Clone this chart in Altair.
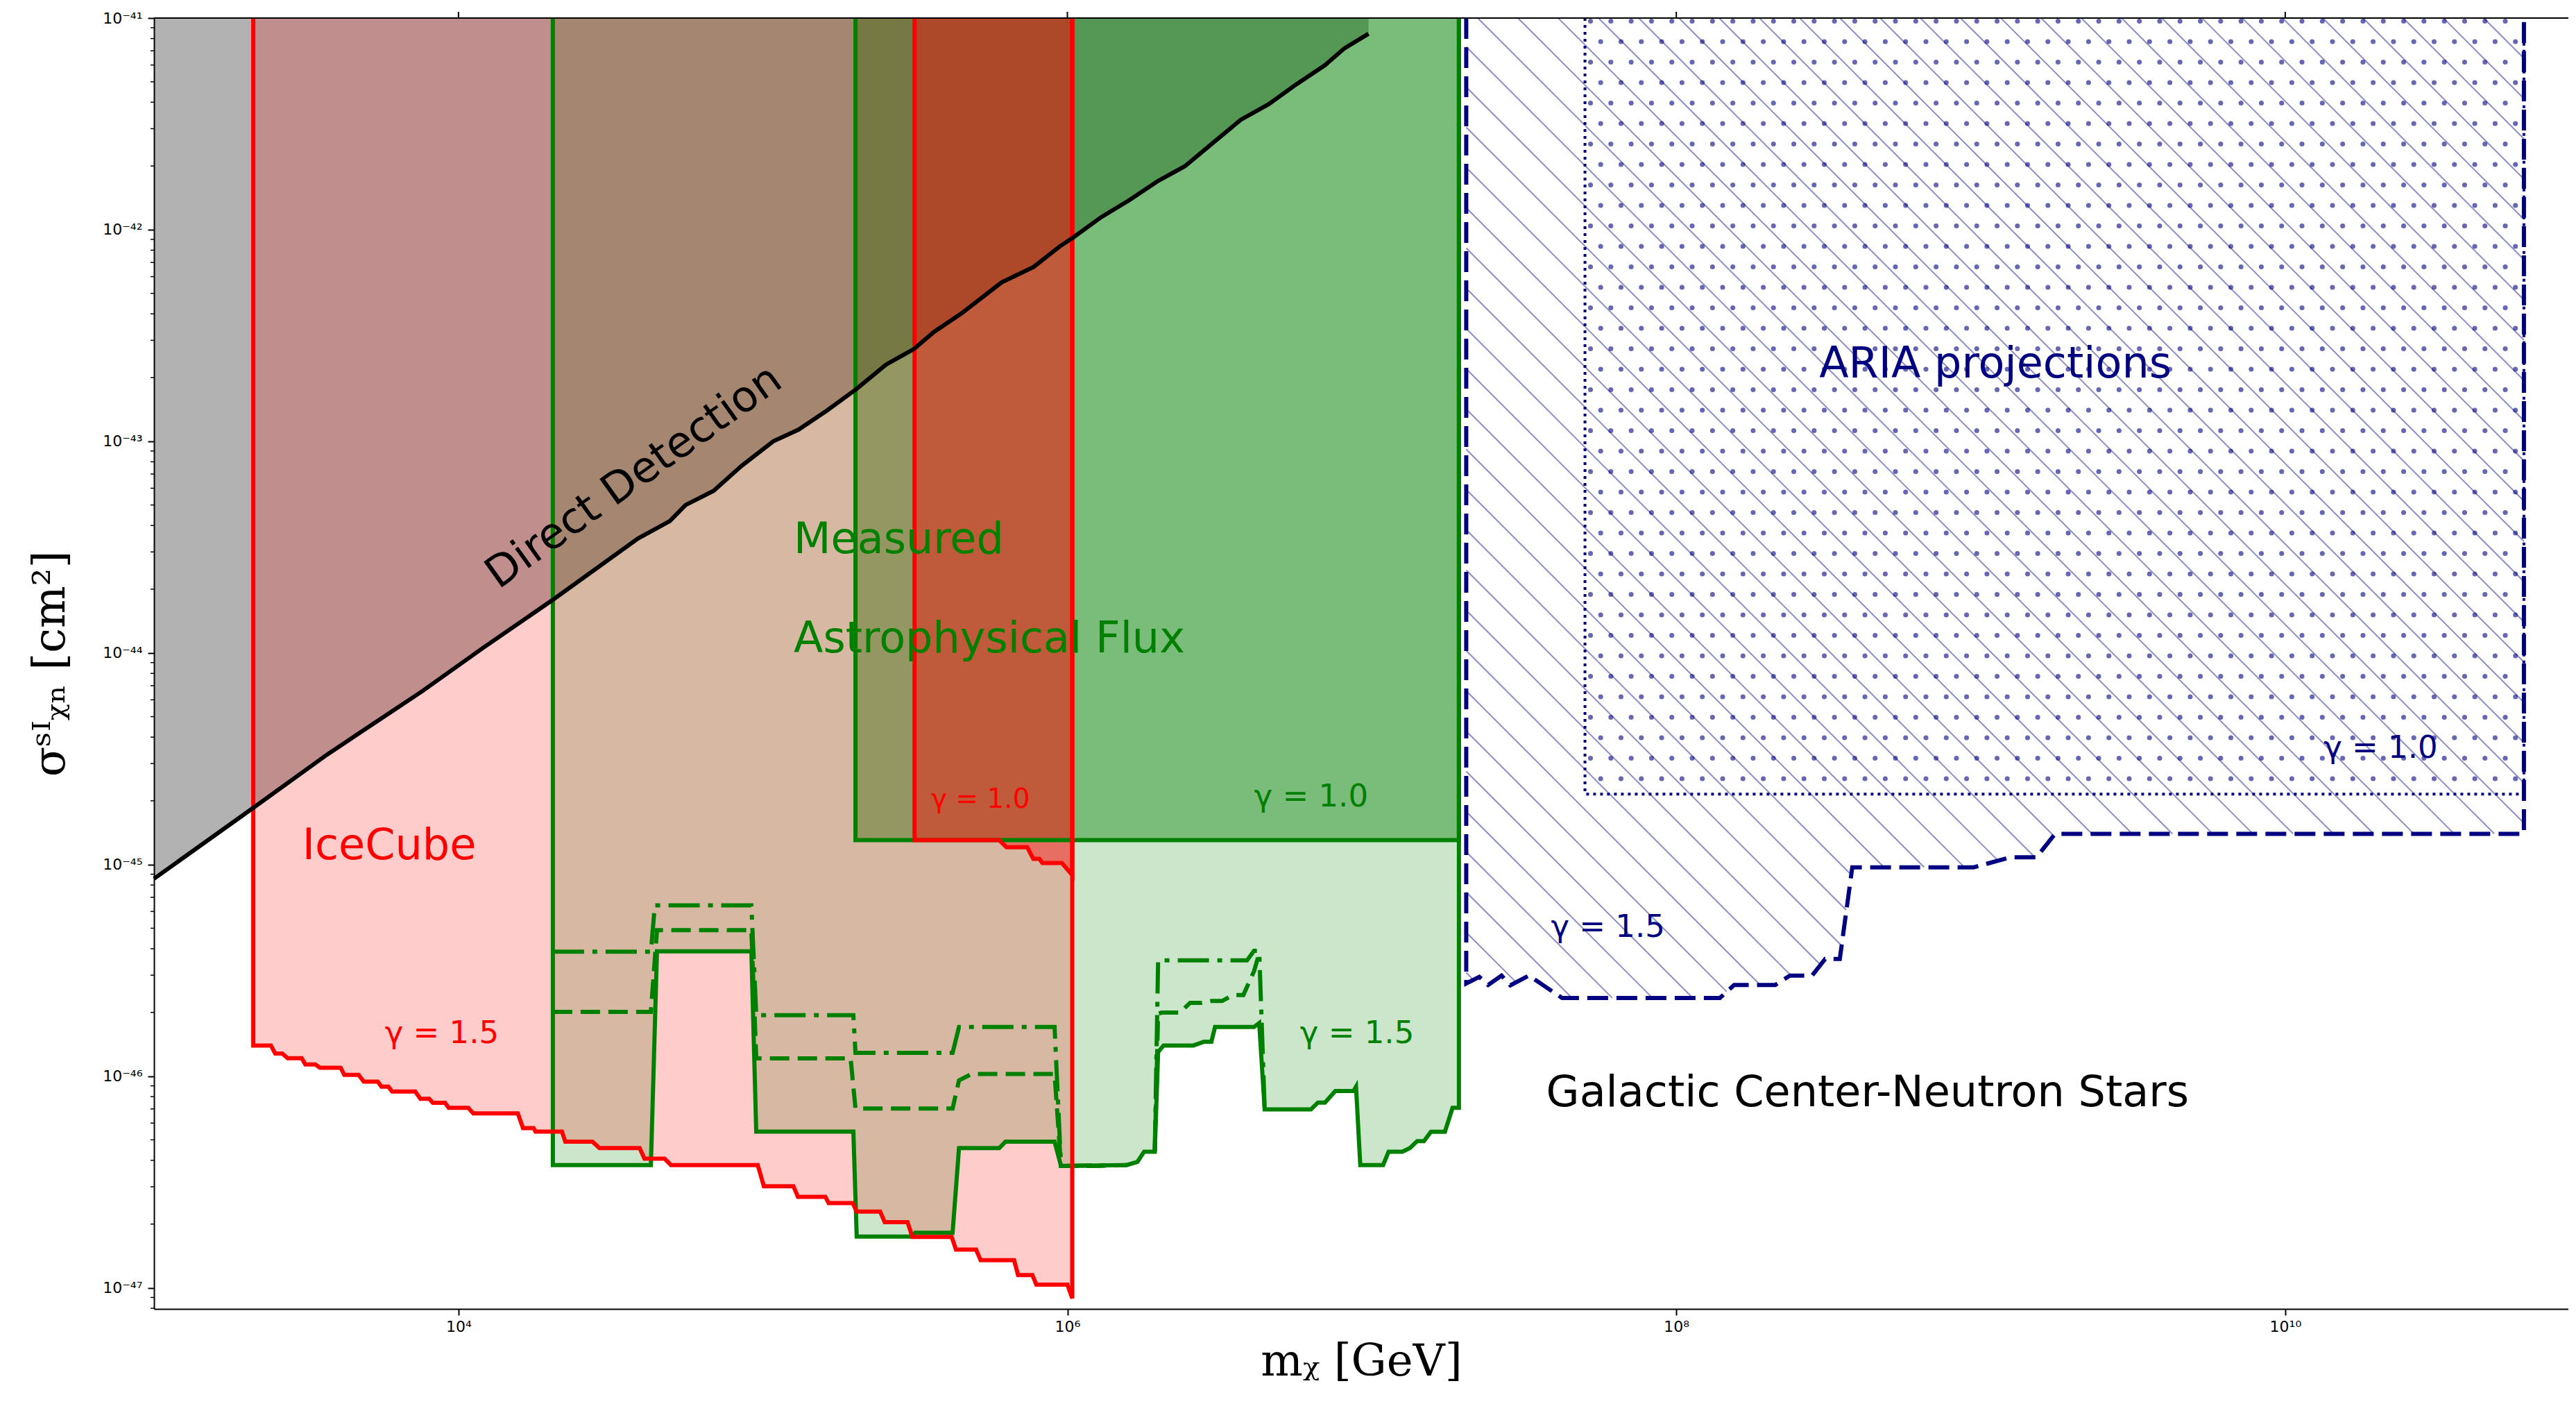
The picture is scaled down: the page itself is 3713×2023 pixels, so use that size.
import altair as alt
import numpy as np
import pandas as pd

# ---------------- axis ranges (log10 units) ----------------
X_LOG = (3.0, 10.93)
Y_LOG = (-47.1, -41.0)
W, H = 3480, 1860

x_tick_exp = [4, 6, 8, 10]
y_tick_exp = [-47, -46, -45, -44, -43, -42, -41]

# ---------------- data (log10 m, log10 sigma) ----------------
# Direct detection limit
dd_lm = [3.0, 3.326, 3.568, 3.882, 4.078, 4.314, 4.589, 4.694, 4.746, 4.838, 4.929, 5.034,
         5.117, 5.208, 5.306, 5.405, 5.496, 5.562, 5.653, 5.784, 5.889, 5.974, 6.019, 6.111,
         6.203, 6.294, 6.386, 6.478, 6.57, 6.661, 6.753, 6.845, 6.91, 6.989]
dd_ls = [-45.067, -44.732, -44.481, -44.18, -43.979, -43.745, -43.46, -43.377, -43.301, -43.234,
         -43.117, -43.0, -42.945, -42.857, -42.754, -42.637, -42.564, -42.483, -42.395, -42.249,
         -42.176, -42.08, -42.037, -41.941, -41.861, -41.773, -41.70, -41.59, -41.48, -41.407,
         -41.312, -41.224, -41.143, -41.074]

# IceCube, gamma = 1.5
ic15_lm = [3.326, 3.384, 3.398, 3.421, 3.439, 3.485, 3.497, 3.53, 3.545, 3.613, 3.625, 3.672,
           3.689, 3.735, 3.747, 3.77, 3.782, 3.858, 3.875, 3.904, 3.916, 3.956, 3.968, 4.032,
           4.049, 4.195, 4.212, 4.247, 4.253, 4.34, 4.351, 4.44, 4.463, 4.595, 4.611, 4.677,
           4.698, 4.983, 5.003, 5.10, 5.115, 5.205, 5.216, 5.295, 5.308, 5.385, 5.40, 5.475,
           5.491, 5.62, 5.634, 5.70, 5.715, 5.825, 5.838, 5.885, 5.898, 6.0, 6.016]
ic15_ls = [-45.855, -45.855, -45.893, -45.893, -45.915, -45.915, -45.945, -45.945, -45.96, -45.96,
           -45.994, -45.994, -46.026, -46.026, -46.05, -46.05, -46.073, -46.073, -46.107, -46.107,
           -46.126, -46.126, -46.15, -46.15, -46.176, -46.176, -46.246, -46.246, -46.262, -46.262,
           -46.31, -46.31, -46.34, -46.34, -46.39, -46.39, -46.42, -46.42, -46.52, -46.52,
           -46.57, -46.57, -46.60, -46.60, -46.64, -46.64, -46.69, -46.69, -46.76, -46.76,
           -46.82, -46.82, -46.87, -46.87, -46.94, -46.94, -46.985, -46.985, -47.05]

# IceCube, gamma = 1.0
ic10_lm = [5.498, 5.776, 5.80, 5.868, 5.888, 5.908, 5.918, 5.982, 6.016]
ic10_ls = [-44.885, -44.885, -44.918, -44.918, -44.973, -44.973, -44.993, -44.993, -45.05]

# Measured astrophysical flux, gamma = 1.5 (solid)
af15_lm = [4.31, 4.632, 4.652, 4.962, 4.978, 5.297, 5.308, 5.49, 5.50, 5.623, 5.644, 5.776,
           5.797, 5.958, 5.979, 6.195, 6.23, 6.252, 6.287, 6.298, 6.316, 6.414, 6.449, 6.473,
           6.485, 6.613, 6.63, 6.648, 6.80, 6.823, 6.846, 6.88, 6.94, 6.948, 6.962, 7.037,
           7.055, 7.10, 7.125, 7.149, 7.171, 7.194, 7.24, 7.265, 7.286]
af15_ls = [-46.42, -46.42, -45.41, -45.41, -46.262, -46.262, -46.758, -46.758, -46.74, -46.74,
           -46.34, -46.34, -46.31, -46.31, -46.424, -46.42, -46.405, -46.357, -46.357, -45.886,
           -45.855, -45.855, -45.837, -45.837, -45.768, -45.768, -45.749, -46.157, -46.157,
           -46.125, -46.125, -46.07, -46.07, -46.05, -46.42, -46.42, -46.357, -46.357, -46.34,
           -46.307, -46.307, -46.263, -46.263, -46.15, -46.15]

# dashed variant (two pieces)
dash_seg = [0] * 14 + [1] * 12
dash_lm = [4.31, 4.632, 4.652, 4.962, 4.978, 5.288, 5.304, 5.623, 5.644, 5.685, 5.958, 5.979,
           6.10, 6.195,
           6.287, 6.298, 6.31, 6.369, 6.403, 6.439, 6.473, 6.508, 6.543, 6.578, 6.613, 6.63]
dash_ls = [-45.696, -45.696, -45.31, -45.31, -45.916, -45.916, -46.153, -46.153, -46.02, -45.99,
           -45.99, -46.424, -46.424, -46.42,
           -46.357, -45.705, -45.70, -45.70, -45.654, -45.654, -45.645, -45.645, -45.617,
           -45.617, -45.504, -45.42]

# dash-dot variant (two pieces)
dd2_seg = [0] * 12 + [1] * 6
dd2_lm = [4.31, 4.632, 4.645, 4.962, 4.978, 5.297, 5.304, 5.623, 5.644, 5.958, 5.979, 6.195,
          6.287, 6.298, 6.59, 6.613, 6.63, 6.648]
dd2_ls = [-45.412, -45.412, -45.193, -45.193, -45.712, -45.712, -45.89, -45.89, -45.768, -45.768,
          -46.424, -46.42,
          -46.357, -45.453, -45.453, -45.408, -45.408, -46.157]

# Measured astrophysical flux, gamma = 1.0
af10_lm = [5.304, 7.286]
af10_ls = [-44.885, -44.885]

# ARIA projections
aria15_lm = [7.31, 7.353, 7.382, 7.426, 7.455, 7.516, 7.625, 8.143, 8.19, 8.325, 8.373, 8.446,
             8.489, 8.537, 8.578, 8.977, 9.098, 9.183, 9.244, 10.784]
aria15_ls = [-45.562, -45.531, -45.569, -45.525, -45.571, -45.525, -45.631, -45.631, -45.569,
             -45.569, -45.525, -45.525, -45.446, -45.446, -45.013, -45.013, -44.966, -44.966,
             -44.855, -44.855]
aria10_lm = [7.70, 10.784]
aria10_ls = [-44.667, -44.667]

# text annotations
lab_text = ["IceCube", "Measured", "Astrophysical Flux",
            "γ = 1.5", "γ = 1.0", "γ = 1.0", "γ = 1.5", "γ = 1.0", "γ = 1.5"]
lab_lm = [3.487, 5.101, 5.101, 3.758, 5.552, 6.613, 6.764, 10.126, 7.588]
lab_ls = [-44.974, -43.53, -43.998, -45.843, -44.731, -44.725, -45.843, -44.495, -45.342]
lab_col = ["red", "green", "green", "red", "red", "green", "green", "#000080", "#000080"]
lab_fs = [62, 62, 62, 45, 39, 45, 45, 45, 45]

ctr_text = ["Direct Detection", "ARIA projections", "Galactic Center-Neutron Stars"]
ctr_lm = [4.601, 9.048, 8.628]
ctr_ls = [-43.219, -42.699, -46.143]
ctr_col = ["black", "#000080", "black"]
ctr_ang = [324.5, 0, 0]

# ---------------- helpers ----------------
TOP = Y_LOG[1]


def frame(lm, ls, **extra):
    d = {"m": 10 ** np.asarray(lm, float), "s": 10 ** np.asarray(ls, float),
         "top": np.full(len(lm), 10.0 ** TOP), "i": np.arange(len(lm))}
    d.update(extra)
    return pd.DataFrame(d)


def outline(lm, ls):
    return [lm[0]] + list(lm) + [lm[-1]], [TOP] + list(ls) + [TOP]


xs = alt.Scale(type="log", domain=[10 ** X_LOG[0], 10 ** X_LOG[1]], nice=False)
ys = alt.Scale(type="log", domain=[10 ** Y_LOG[0], 10 ** Y_LOG[1]], nice=False)

SUP = str.maketrans("-0123456789", "⁻⁰¹²³⁴⁵⁶⁷⁸⁹")


def label_expr(exps):
    parts = []
    for e in exps[:-1]:
        parts.append(f"datum.value < {10 ** (e + 0.5)!r} ? '10{str(e).translate(SUP)}' : ")
    return "".join(parts) + f"'10{str(exps[-1]).translate(SUP)}'"


axis_common = dict(grid=False, tickSize=9, tickWidth=2, tickColor="black", domainColor="black",
                   domainWidth=2, labelFontSize=22, labelFont="DejaVu Sans", labelColor="black",
                   titleFont="DejaVu Serif", titleFontSize=64, titleFontWeight="normal",
                   titleColor="black", labelFlush=False, labelOverlap=False)
x_axis = alt.Axis(values=[10.0 ** e for e in x_tick_exp], labelExpr=label_expr(x_tick_exp),
                  title="mᵪ [GeV]", labelPadding=6, titlePadding=8, **axis_common)
y_axis = alt.Axis(values=[10.0 ** e for e in y_tick_exp], labelExpr=label_expr(y_tick_exp),
                  title="σˢᴵᵪₙ [cm²]", labelPadding=8, titlePadding=42, **axis_common)


def X(field="m"):
    return alt.X(f"{field}:Q", scale=xs, axis=x_axis)


def Y(field="s"):
    return alt.Y(f"{field}:Q", scale=ys, axis=y_axis)


def area(lm, ls, color, op):
    return alt.Chart(frame(lm, ls)).mark_area(color=color, fillOpacity=op, strokeOpacity=0).encode(
        x=X(), y=Y("top"), y2=alt.Y2("s:Q"))


def line(lm, ls, color, width, dash=None, seg=None):
    df = frame(lm, ls) if seg is None else frame(lm, ls, seg=seg)
    kw = dict(color=color, strokeWidth=width, strokeJoin="miter")
    if dash:
        kw["strokeDash"] = dash
    enc = dict(x=X(), y=Y(), order=alt.Order("i:Q"))
    if seg is not None:
        enc["detail"] = "seg:N"
    return alt.Chart(df).mark_line(**kw).encode(**enc)


# ---------------- hatch + dots for ARIA (pixel-space pattern) ----------------
PX = W / (X_LOG[1] - X_LOG[0])
PY = H / (Y_LOG[1] - Y_LOG[0])
HATCH_STEP = 58.0
DOT_DX, DOT_DY = 29.3, 29.5


def to_px(lm):
    return (np.asarray(lm, float) - X_LOG[0]) * PX


def to_py(ls):
    return (Y_LOG[1] - np.asarray(ls, float)) * PY


grid = np.linspace(to_px(aria15_lm[0]), to_px(aria15_lm[-1]), 5000)
low = np.interp(grid, to_px(aria15_lm), to_py(aria15_ls))
hs = []
for c in np.arange(-grid[-1], low.max() - grid[0], HATCH_STEP):
    ln = grid + c
    inside = (ln >= 0) & (ln <= low)
    idx = np.nonzero(inside)[0]
    if len(idx) < 2:
        continue
    a = idx[0]
    b = a
    while b + 1 < len(grid) and inside[b + 1]:
        b += 1
    if b > a:
        hs.append((grid[a], ln[a], grid[b], ln[b]))
hs = np.array(hs)
hatch_df = pd.DataFrame({
    "m": 10 ** (X_LOG[0] + hs[:, 0] / PX), "s": 10 ** (Y_LOG[1] - hs[:, 1] / PY),
    "m2": 10 ** (X_LOG[0] + hs[:, 2] / PX), "s2": 10 ** (Y_LOG[1] - hs[:, 3] / PY)})

dpx, dpy = [], []
px0, px1 = to_px(aria10_lm[0]), to_px(aria10_lm[1])
py1 = to_py(aria10_ls[0])
for r, yy in enumerate(np.arange(4.5, py1 - 4, DOT_DY)):
    off = DOT_DX / 2 if r % 2 else 0.0
    for xx in np.arange(px0 + 8 + off, px1 - 4, DOT_DX):
        dpx.append(xx)
        dpy.append(yy)
dots_df = pd.DataFrame({"m": 10 ** (X_LOG[0] + np.array(dpx) / PX),
                        "s": 10 ** (Y_LOG[1] - np.array(dpy) / PY)})

# ---------------- minor / top ticks ----------------
minor_vals = [k * 10.0 ** e for e in range(-48, -41) for k in range(2, 10)
              if Y_LOG[0] <= np.log10(k * 10.0 ** e) <= Y_LOG[1]]
minor_df = pd.DataFrame({"s": minor_vals})
top_df = pd.DataFrame({"m": [10.0 ** e for e in x_tick_exp]})

# ---------------- layers ----------------
LW = 6
layers = []
layers.append(area(dd_lm, dd_ls, "black", 0.3))
layers.append(area(af15_lm, af15_ls, "green", 0.2))
layers.append(area(af10_lm, af10_ls, "green", 0.4))
layers.append(area(ic15_lm, ic15_ls, "red", 0.2))
layers.append(area(ic10_lm, ic10_ls, "red", 0.4))

layers.append(alt.Chart(hatch_df).mark_rule(color="#000080", opacity=0.45, strokeWidth=2).encode(
    x=X(), y=Y(), x2="m2:Q", y2="s2:Q"))
layers.append(alt.Chart(dots_df).mark_circle(color="#000080", opacity=0.6, size=50).encode(
    x=X(), y=Y()))

for lm, ls in [(af15_lm, af15_ls), (af10_lm, af10_ls)]:
    olm, ols = outline(lm, ls)
    layers.append(line(olm, ols, "green", LW))
layers.append(line(dash_lm, dash_ls, "green", LW, dash=[28, 12], seg=dash_seg))
layers.append(line(dd2_lm, dd2_ls, "green", LW, dash=[45, 12, 7, 12], seg=dd2_seg))
for lm, ls in [(ic15_lm, ic15_ls), (ic10_lm, ic10_ls)]:
    olm, ols = outline(lm, ls)
    layers.append(line(olm, ols, "red", LW))
olm, ols = outline(aria15_lm, aria15_ls)
layers.append(line(olm, ols, "#000080", LW, dash=[30, 12]))
olm, ols = outline(aria10_lm, aria10_ls)
layers.append(line(olm, ols, "#000080", 4, dash=[4, 6]))
layers.append(line(dd_lm, dd_ls, "black", LW))

# axis decorations
layers.append(alt.Chart(minor_df).mark_rule(color="black", strokeWidth=1.5).encode(
    y=Y(), x=alt.value(-5), x2=alt.value(0)))
layers.append(alt.Chart(top_df).mark_rule(color="black", strokeWidth=2).encode(
    x=X(), y=alt.value(-9), y2=alt.value(0)))
layers.append(alt.Chart(pd.DataFrame({"d": [0]})).mark_rule(color="black", strokeWidth=2).encode(
    x=alt.value(0), x2=alt.value(W), y=alt.value(0)))

# text
lab_df = frame(lab_lm, lab_ls, t=lab_text, col=lab_col, fs=lab_fs)
layers.append(alt.Chart(lab_df).mark_text(align="left", baseline="alphabetic",
                                          font="DejaVu Sans").encode(
    x=X(), y=Y(), text="t:N", color=alt.Color("col:N", scale=None),
    size=alt.Size("fs:Q", scale=None)))
ctr_df = frame(ctr_lm, ctr_ls, t=ctr_text, col=ctr_col, ang=ctr_ang)
layers.append(alt.Chart(ctr_df).mark_text(align="center", baseline="alphabetic",
                                          font="DejaVu Sans", fontSize=62).encode(
    x=X(), y=Y(), text="t:N", color=alt.Color("col:N", scale=None),
    angle=alt.Angle("ang:Q", scale=None)))

chart = alt.layer(*layers).properties(
    width=W, height=H,
    autosize=alt.AutoSizeParams(type="none"),
    padding={"left": 214, "top": 18, "right": 0, "bottom": 125},
).configure_view(stroke="transparent").configure(background="white")

chart.save("out.html", embed_options={"renderer": "svg", "actions": False})
